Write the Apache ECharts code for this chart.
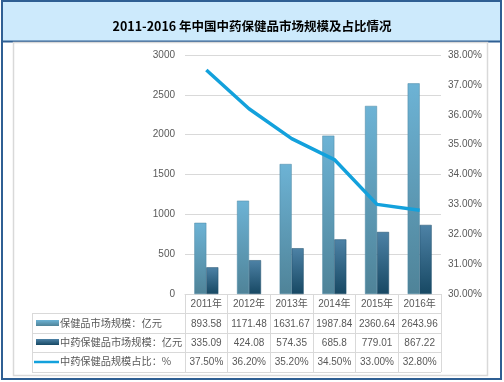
<!DOCTYPE html>
<html>
<head>
<meta charset="utf-8">
<script src="https://cdn.jsdelivr.net/npm/echarts@6/dist/echarts.min.js"></script>
<style>html,body{margin:0;padding:0;background:#fff}#c{width:504px;height:382px}</style>
</head>
<body>
<div id="c"></div>
<script>
var years = ['2011年','2012年','2013年','2014年','2015年','2016年'];
var marketSize = [893.58, 1171.48, 1631.67, 1987.84, 2360.64, 2643.96];
var tcmSize = [335.09, 424.08, 574.35, 685.8, 779.01, 867.22];
var tcmShare = [37.50, 36.20, 35.20, 34.50, 33.00, 32.80];
var shareLabels = ['37.50%','36.20%','35.20%','34.50%','33.00%','32.80%'];
var seriesNames = ['保健品市场规模：亿元','中药保健品市场规模：亿元','中药保健品规模占比：%'];
var titleText = '2011-2016 年中国中药保健品市场规模及占比情况';

var FONT = "'Liberation Sans','Noto Sans CJK SC',sans-serif";
var CJK = "'Noto Sans CJK SC',sans-serif";
var TXT = '#595959';
var GRID = '#d9d9d9';
function lightG(){ return new echarts.graphic.LinearGradient(0,0,0,1,[{offset:0,color:'#6db3d5'},{offset:1,color:'#4f8398'}]); }
function darkG(){ return new echarts.graphic.LinearGradient(0,0,0,1,[{offset:0,color:'#4d82a6'},{offset:1,color:'#174863'}]); }

var chart = echarts.init(document.getElementById('c'), null, {renderer:'canvas'});
var L = 185, R = 441, T = 55, B = 294;
var rowsY = [313, 333, 352, 372];
var graphics = [
  {type:'rect', z:-10, shape:{x:2,y:1,width:499,height:378}, style:{fill:'#fff', stroke:'#2f5f93', lineWidth:2}},
  {type:'rect', z:-9, shape:{x:3,y:2,width:497,height:39}, style:{fill:'#cdeafc'}},
  {type:'line', z:-8, shape:{x1:2,y1:41.5,x2:501,y2:41.5}, style:{stroke:'#2f5f93', lineWidth:2}},
  {type:'rect', z:-8, shape:{x:13.5,y:42.5,width:474,height:333}, style:{fill:'none', stroke:'#d9d9d9', lineWidth:1.5}},
  {type:'line', shape:{x1:32.5,y1:313,x2:32.5,y2:372.5}, style:{stroke:GRID, lineWidth:1}}
];
rowsY.forEach(function(y){
  graphics.push({type:'line', shape:{x1:32, y1:y+0.5, x2:R, y2:y+0.5}, style:{stroke:GRID, lineWidth:1}});
});
graphics.push({type:'rect', shape:{x:36,y:320,width:23,height:6}, style:{fill:lightG()}});
graphics.push({type:'rect', shape:{x:36,y:339,width:23,height:6}, style:{fill:darkG()}});
graphics.push({type:'line', shape:{x1:34,y1:362,x2:59,y2:362}, style:{stroke:'#13a1dc', lineWidth:2.5}});
seriesNames.forEach(function(n,i){
  graphics.push({type:'text', x:60, y:[323,342,361][i], style:{text:n, fill:TXT, font:'10.2px '+CJK, verticalAlign:'middle'}});
});

chart.setOption({
  animation:false,
  title:{text:titleText, left:'center', top:15, textStyle:{fontSize:12.5, fontWeight:'bold', color:'#000', fontFamily:CJK}},
  grid:{left:L, right:504-R, top:T, bottom:382-B},
  graphic:graphics,
  xAxis:{type:'category', data:years, boundaryGap:true,
    axisLine:{show:true, lineStyle:{color:GRID}},
    axisTick:{show:true, length:78, lineStyle:{color:GRID}},
    axisLabel:{interval:0, margin:1, color:TXT, fontSize:10, fontFamily:FONT, lineHeight:19.3,
      formatter:function(v, i){ return v + '\n' + marketSize[i] + '\n' + tcmSize[i] + '\n' + shareLabels[i]; }}
  },
  yAxis:[
    {type:'value', min:0, max:3000, interval:500, axisLine:{show:false}, axisTick:{show:false},
     splitLine:{lineStyle:{color:GRID}}, axisLabel:{color:TXT, fontSize:10, fontFamily:FONT, margin:10,
       formatter:function(v){return String(v);}}},
    {type:'value', min:30, max:38, interval:1, axisLine:{show:false}, axisTick:{show:false},
     splitLine:{show:false}, axisLabel:{color:TXT, fontSize:10, fontFamily:FONT, margin:7,
       formatter:function(v){return v.toFixed(2)+'%';}}}
  ],
  series:[
    {name:seriesNames[0], type:'bar', data:marketSize, barWidth:12, barGap:'0%',
     itemStyle:{color:lightG(), borderColor:'#4a86a3', borderWidth:0.5}},
    {name:seriesNames[1], type:'bar', data:tcmSize, barWidth:12,
     itemStyle:{color:darkG(), borderColor:'#1f4e6b', borderWidth:0.5}},
    {name:seriesNames[2], type:'line', yAxisIndex:1, data:tcmShare, showSymbol:false, symbol:'none',
     lineStyle:{color:'#13a1dc', width:3.5}, itemStyle:{color:'#13a1dc'}, z:5}
  ]
});
</script>
</body>
</html>
